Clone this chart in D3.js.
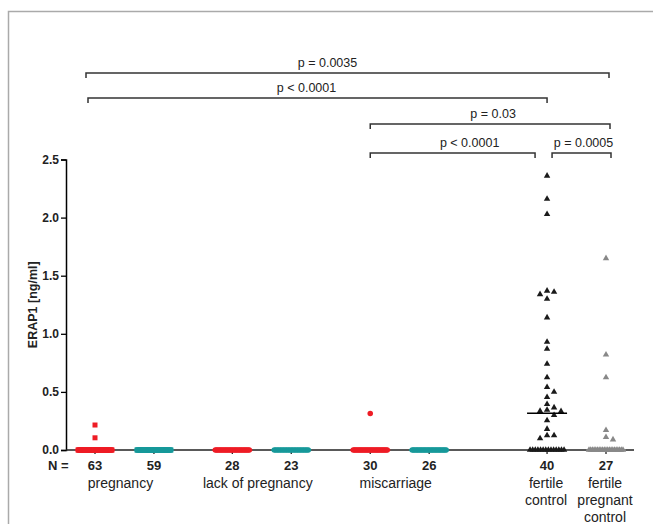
<!DOCTYPE html>
<html>
<head>
<meta charset="utf-8">
<script src="https://cdn.jsdelivr.net/npm/d3@7"></script>
<style>
  body { margin: 0; background: #fff; }
  text { font-family: "Liberation Sans", Arial, sans-serif; }
</style>
</head>
<body>
<div class="container"></div>
<script>
// groups, left to right
var groupIds = ["preg1", "preg2", "lack1", "lack2", "misc1", "misc2", "fertile", "fertilePreg"];
var nCounts = [63, 59, 28, 23, 30, 26, 40, 27];
var slots = [0, 1, 2.33, 3.33, 4.67, 5.67, 7.67, 8.67];
// values above zero, the rest of each group (N minus these) sits at 0
var nonZero = [
  [0.215, 0.105],
  [],
  [],
  [],
  [0.315],
  [],
  [2.36, 2.16, 2.03, 1.37, 1.36, 1.34, 1.30, 1.14, 0.93, 0.87, 0.74, 0.625, 0.54, 0.50,
   0.455, 0.395, 0.365, 0.345, 0.335, 0.333, 0.30, 0.255, 0.18, 0.125, 0.125, 0.10],
  [1.65, 0.82, 0.625, 0.17, 0.11, 0.09]
];
var shapes = ["square", "square", "circle", "circle", "circle", "circle", "triangle", "triangle"];
var colors = ["#ee1c25", "#17999a", "#ee1c25", "#17999a", "#ee1c25", "#17999a", "#1a1a1a", "#888888"];
var yTicks = [0, 0.5, 1, 1.5, 2, 2.5];
var catLabels = [["pregnancy"], ["lack of pregnancy"], ["miscarriage"], ["fertile", "control"], ["fertile", "pregnant", "control"]];
var catSpans = [[0, 1], [2, 3], [4, 5], [6, 6], [7, 7]];
var brackets = [
  { from: 0, to: 7, label: "p = 0.0035" },
  { from: 0, to: 6, label: "p < 0.0001" },
  { from: 4, to: 7, label: "p = 0.03" },
  { from: 4, to: 6, label: "p < 0.0001" },
  { from: 6, to: 7, label: "p = 0.0005" }
];

// layout
var W = 653, H = 524;
var bracketY = [73, 98, 124, 153, 153];
var bracketPad = [[-9, 3], [-7, 0], [0, 4], [0, -12], [5, 5]];
var labelDx = [-20, -11, 3, 17, 2];

var svg = d3.select(".container").append("svg")
  .attr("width", W).attr("height", H);

// frame
svg.append("path")
  .attr("d", "M8.5," + H + "V11.5H" + W)
  .attr("fill", "none").attr("stroke", "#aaa").attr("stroke-width", 1.5);

var x = d3.scaleLinear().domain([0, 8.67]).range([95, 606]);
var y = d3.scaleLinear().domain([0, 2.5]).range([450, 159.5]);

// y axis
var yAxis = d3.axisLeft(y).tickValues(yTicks).tickSize(5).tickPadding(2)
  .tickFormat(d3.format(".1f"));
var gy = svg.append("g").attr("transform", "translate(66,0)").call(yAxis);
gy.select(".domain").attr("stroke", "#000").attr("stroke-width", 1.5);
gy.selectAll(".tick line").attr("stroke", "#000").attr("stroke-width", 1.3);
gy.selectAll(".tick text")
  .style("font-family", "'Liberation Sans', Arial, sans-serif")
  .attr("font-size", 12).attr("font-weight", "bold").attr("fill", "#222");

svg.append("text")
  .attr("transform", "translate(37," + y(1.25) + ") rotate(-90)")
  .attr("text-anchor", "middle")
  .attr("font-size", 12.5).attr("font-weight", "bold").attr("fill", "#222")
  .text("ERAP1 [ng/ml]");

// x baseline + ticks
svg.append("line")
  .attr("x1", 66).attr("x2", 634).attr("y1", y(0)).attr("y2", y(0))
  .attr("stroke", "#222").attr("stroke-width", 1.5);
svg.selectAll(".xtick").data(slots).enter().append("line")
  .attr("class", "xtick")
  .attr("x1", d => x(d)).attr("x2", d => x(d))
  .attr("y1", y(0)).attr("y2", y(0) + 4)
  .attr("stroke", "#222").attr("stroke-width", 1.3);

// point layout: zeros spread in a band, others swarmed
function place(vals, cx) {
  var zeros = vals.filter(v => v === 0);
  var others = vals.filter(v => v !== 0).sort((a, b) => b - a);
  var band = 34, out = [], placed = [];
  zeros.forEach(function (v, i) {
    var px = zeros.length > 1 ? cx - band / 2 + i * band / (zeros.length - 1) : cx;
    out.push({ x: px, y: y(0) });
  });
  var order = [0, 1, -1, 2, -2, 3, -3];
  others.forEach(function (v) {
    var py = y(v), px = cx;
    for (var k = 0; k < order.length; k++) {
      var tx = cx + order[k] * 7;
      var hit = placed.some(p => Math.abs(p.x - tx) < 6 && Math.abs(p.y - py) < 5.5);
      if (!hit) { px = tx; break; }
    }
    placed.push({ x: px, y: py });
    out.push({ x: px, y: py });
  });
  return out;
}

var symType = { square: d3.symbolSquare, circle: d3.symbolCircle, triangle: d3.symbolTriangle };
var symSize = { square: 25, circle: 24, triangle: 18 };

groupIds.forEach(function (id, i) {
  var vals = d3.range(nCounts[i] - nonZero[i].length).map(() => 0).concat(nonZero[i]);
  var pts = place(vals, x(slots[i]));
  var sym = d3.symbol().type(symType[shapes[i]]).size(symSize[shapes[i]]);
  var g = svg.append("g").attr("id", id);
  g.selectAll("path").data(pts).enter().append("path")
    .attr("d", sym)
    .attr("transform", d => "translate(" + d.x + "," + d.y + ")")
    .attr("fill", colors[i]);
  var med = d3.median(vals);
  g.append("line")
    .attr("x1", x(slots[i]) - 20).attr("x2", x(slots[i]) + 20)
    .attr("y1", y(med)).attr("y2", y(med))
    .attr("stroke", i === 6 ? "#000" : colors[i]).attr("stroke-width", 1.6);
});

// N row
svg.append("text")
  .attr("x", 48).attr("y", 470)
  .attr("font-size", 13).attr("font-weight", "bold").attr("fill", "#222")
  .text("N =");
svg.selectAll(".ncount").data(nCounts).enter().append("text")
  .attr("class", "ncount")
  .attr("x", (d, i) => x(slots[i])).attr("y", 470)
  .attr("text-anchor", "middle")
  .attr("font-size", 13).attr("font-weight", "bold").attr("fill", "#222")
  .text(d => d);

// category labels
catLabels.forEach(function (lines, j) {
  var sp = catSpans[j];
  var cx = (x(slots[sp[0]]) + x(slots[sp[1]])) / 2 + (sp[0] === sp[1] ? -1 : -4);
  var t = svg.append("text")
    .attr("text-anchor", "middle")
    .attr("font-size", 14).attr("fill", "#222");
  lines.forEach(function (s, k) {
    t.append("tspan").attr("x", cx).attr("y", 488 + k * 17).text(s);
  });
});

// significance brackets
brackets.forEach(function (b, i) {
  var x1 = x(slots[b.from]) + bracketPad[i][0];
  var x2 = x(slots[b.to]) + bracketPad[i][1];
  var by = bracketY[i];
  svg.append("path")
    .attr("d", "M" + x1 + "," + (by + 5) + "V" + by + "H" + x2 + "V" + (by + 5))
    .attr("fill", "none").attr("stroke", "#333").attr("stroke-width", 1.5);
  svg.append("text")
    .attr("x", (x1 + x2) / 2 + labelDx[i]).attr("y", by - 6)
    .attr("text-anchor", "middle")
    .attr("font-size", 12.5).attr("fill", "#222")
    .text(b.label);
});
</script>
</body>
</html>
